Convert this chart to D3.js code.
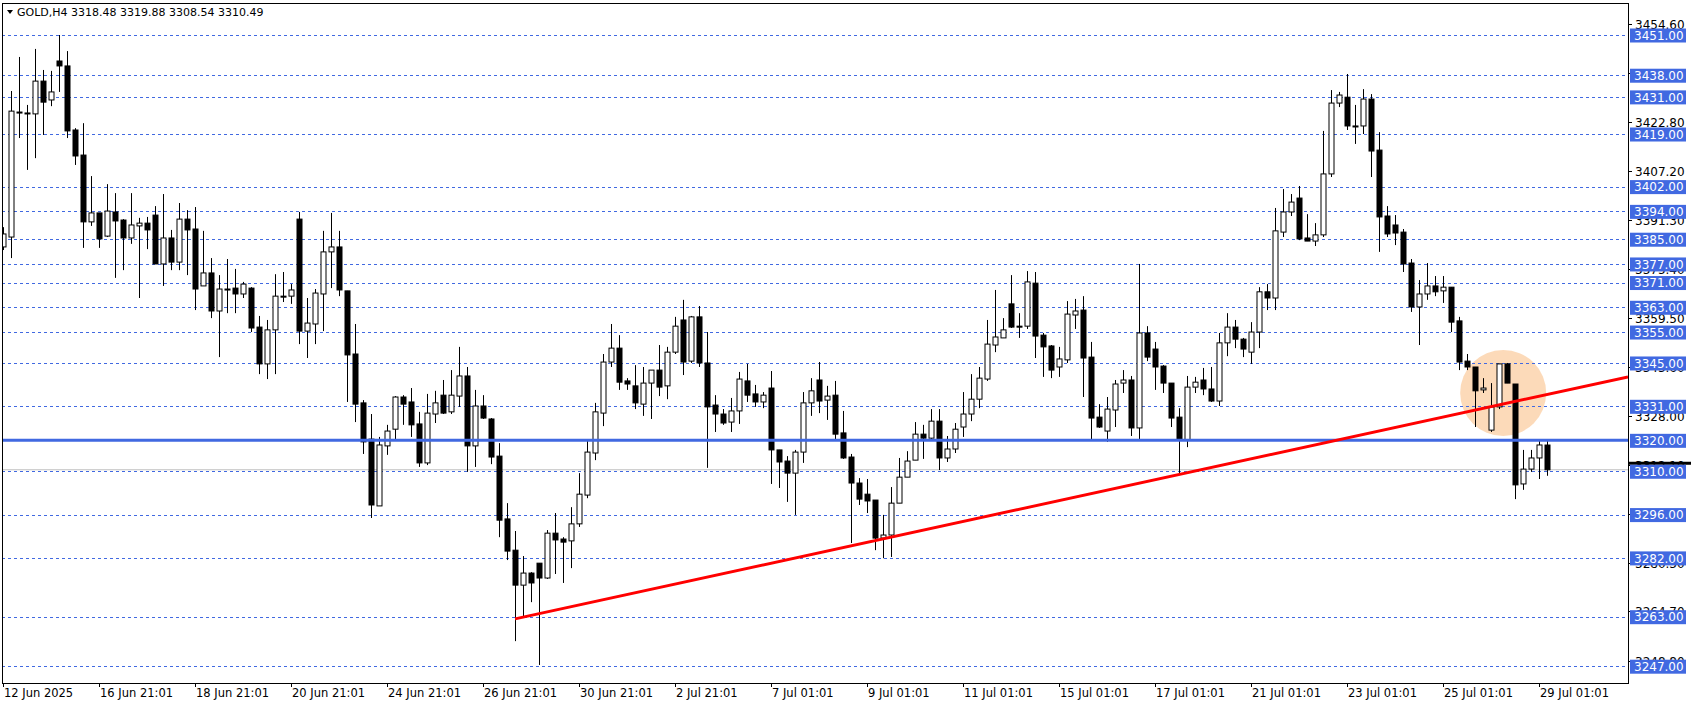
<!DOCTYPE html>
<html>
<head>
<meta charset="utf-8">
<script src="https://cdn.jsdelivr.net/npm/d3@7"></script>
<style>
  body { margin: 0; background: #fff; }
  svg { display: block; font-family: "DejaVu Sans", Tahoma, sans-serif; }
</style>
</head>
<body>
<div id="chart"></div>
<script>
// GOLD H4 candles: [open, high, low, close]
const candles = [
  [3382.5,3388.9,3381.5,3386.7],[3385.7,3432.9,3378.9,3426.4],[3426.1,3443.9,3417.7,3426.1],[3425.8,3428.4,3407.4,3425.8],
  [3425.5,3446.5,3411.2,3436.1],[3436.1,3439.7,3418.7,3429.3],[3430.0,3439.4,3428.0,3432.6],[3442.6,3451.0,3432.6,3441.0],
  [3441.0,3445.8,3417.7,3420.0],[3420.3,3420.9,3409.0,3411.9],[3412.2,3422.5,3382.2,3390.6],[3390.6,3405.4,3389.3,3393.5],
  [3393.5,3393.5,3382.2,3385.1],[3386.0,3402.8,3385.7,3394.1],[3393.8,3399.9,3372.5,3390.9],[3391.2,3391.5,3375.0,3385.4],
  [3385.4,3399.9,3383.5,3389.6],[3389.3,3391.9,3366.0,3390.2],[3390.2,3392.2,3381.8,3388.0],[3392.8,3395.7,3377.0,3377.0],
  [3377.0,3399.6,3369.9,3385.4],[3385.4,3388.0,3375.0,3377.6],[3377.6,3396.7,3375.0,3391.5],[3391.5,3394.4,3373.4,3388.0],
  [3388.3,3395.4,3362.1,3368.9],[3369.9,3387.7,3369.9,3374.1],[3374.1,3378.9,3359.5,3361.8],[3361.8,3373.4,3346.9,3368.9],
  [3368.9,3378.6,3361.1,3368.9],[3369.2,3375.4,3361.1,3367.3],[3367.3,3371.2,3366.0,3370.5],[3369.2,3369.5,3355.0,3356.3],
  [3356.6,3360.2,3341.4,3344.7],[3344.7,3358.9,3339.8,3355.7],[3355.7,3373.7,3341.4,3366.6],[3366.6,3374.4,3364.7,3366.6],
  [3366.6,3370.5,3364.1,3368.6],[3391.5,3393.8,3351.1,3355.3],[3355.3,3366.0,3346.6,3357.9],[3357.6,3368.9,3351.1,3367.6],
  [3367.3,3387.7,3355.3,3380.9],[3380.9,3393.5,3369.2,3382.5],[3382.5,3387.7,3366.6,3368.6],[3368.3,3368.3,3332.4,3347.6],
  [3347.9,3357.6,3325.9,3331.7],[3332.1,3333.0,3315.6,3319.5],[3320.4,3328.5,3294.9,3299.1],[3298.8,3321.1,3298.8,3318.5],
  [3318.2,3325.0,3315.3,3323.0],[3323.6,3334.3,3320.1,3334.0],[3334.0,3334.6,3325.0,3331.7],[3332.4,3336.9,3321.1,3325.0],
  [3325.3,3329.2,3311.4,3312.7],[3312.7,3335.0,3312.0,3328.8],[3328.5,3336.0,3325.6,3332.1],[3334.6,3339.5,3328.5,3328.8],
  [3329.2,3342.7,3328.5,3334.6],[3334.3,3350.2,3330.8,3340.8],[3340.8,3343.7,3309.8,3318.2],[3318.2,3336.3,3311.4,3331.1],
  [3331.1,3334.6,3326.9,3327.2],[3326.9,3327.2,3312.3,3314.6],[3314.9,3319.1,3288.7,3294.2],[3294.6,3299.7,3281.3,3284.2],
  [3284.5,3290.7,3255.1,3273.2],[3273.2,3282.6,3262.9,3277.1],[3277.1,3277.4,3267.7,3273.9],[3280.3,3280.3,3247.4,3275.5],
  [3275.5,3291.0,3275.2,3290.0],[3290.0,3296.5,3276.8,3287.8],[3288.1,3288.7,3273.9,3287.1],[3287.5,3298.4,3278.7,3293.0],
  [3293.0,3309.4,3292.0,3302.6],[3302.3,3320.4,3301.3,3316.2],[3315.9,3332.1,3313.6,3329.2],[3328.8,3347.9,3324.6,3345.3],
  [3345.3,3357.6,3343.7,3349.8],[3349.8,3354.0,3336.3,3338.8],[3339.2,3340.1,3336.3,3338.2],[3337.6,3344.3,3330.1,3332.1],
  [3331.7,3343.7,3327.9,3338.5],[3338.5,3342.7,3326.9,3342.7],[3342.7,3350.8,3334.3,3337.2],[3337.6,3350.2,3333.3,3348.5],
  [3348.5,3359.9,3347.9,3356.9],[3358.9,3365.4,3341.1,3345.3],[3345.6,3360.2,3345.0,3359.9],[3359.9,3363.4,3343.7,3345.0],
  [3345.0,3355.0,3311.1,3330.8],[3331.4,3334.6,3322.7,3328.5],[3328.5,3330.1,3325.0,3325.6],[3325.9,3333.7,3322.7,3329.5],
  [3329.5,3342.1,3325.3,3339.8],[3339.2,3344.7,3332.4,3334.6],[3335.0,3337.9,3330.8,3332.4],[3332.4,3335.6,3330.4,3334.6],
  [3336.9,3342.4,3305.9,3316.9],[3316.9,3316.9,3304.6,3313.0],[3313.3,3314.9,3300.1,3309.4],[3309.4,3316.9,3295.9,3316.2],
  [3316.2,3335.6,3312.7,3332.1],[3332.1,3340.1,3327.9,3336.0],[3339.5,3345.3,3328.8,3332.7],[3333.0,3337.6,3326.6,3334.3],
  [3334.6,3339.2,3320.4,3322.0],[3322.4,3329.5,3314.0,3314.3],[3314.6,3315.6,3286.8,3306.2],[3306.2,3307.8,3299.1,3301.0],
  [3302.6,3307.5,3296.5,3300.4],[3300.7,3300.7,3284.5,3288.4],[3288.4,3295.9,3281.9,3289.4],[3289.4,3304.9,3282.3,3299.7],
  [3299.7,3314.3,3299.7,3308.1],[3308.1,3316.5,3308.1,3313.3],[3313.6,3325.9,3313.6,3322.0],[3322.0,3325.0,3314.0,3320.7],
  [3320.7,3330.1,3320.1,3326.2],[3326.2,3330.1,3310.4,3314.3],[3314.3,3321.4,3313.0,3317.2],[3317.2,3325.6,3315.9,3323.6],
  [3324.3,3335.6,3321.1,3328.5],[3328.5,3341.4,3326.2,3333.3],[3333.3,3343.7,3330.4,3340.1],[3339.8,3358.9,3339.2,3351.1],
  [3350.8,3368.6,3348.5,3353.4],[3353.1,3359.5,3353.1,3355.7],[3364.1,3373.4,3356.3,3356.6],[3356.9,3361.1,3353.1,3356.9],
  [3356.9,3374.7,3356.0,3371.2],[3370.8,3374.4,3346.6,3353.7],[3354.0,3354.7,3340.5,3350.2],[3350.5,3350.8,3340.1,3342.7],
  [3343.7,3350.2,3340.5,3346.3],[3346.0,3365.0,3345.0,3360.8],[3360.5,3365.7,3356.0,3361.8],[3362.1,3366.6,3334.0,3346.6],
  [3346.9,3351.8,3320.1,3327.2],[3327.5,3331.7,3324.0,3324.3],[3323.0,3334.0,3319.5,3330.1],[3329.8,3339.5,3324.3,3338.2],
  [3338.5,3342.7,3335.3,3339.5],[3339.5,3340.8,3321.4,3324.0],[3324.0,3377.0,3320.1,3354.7],[3354.7,3356.9,3345.6,3346.9],
  [3349.5,3351.8,3336.3,3343.7],[3344.0,3344.3,3335.3,3338.5],[3338.5,3338.5,3324.3,3327.2],[3327.5,3330.4,3309.4,3320.1],
  [3320.1,3340.8,3317.8,3337.2],[3337.2,3340.5,3335.3,3338.8],[3339.5,3343.4,3334.6,3336.6],[3336.6,3343.7,3332.4,3332.7],
  [3332.7,3354.7,3331.1,3351.5],[3351.5,3361.1,3347.2,3356.6],[3356.6,3358.9,3349.8,3352.7],[3352.7,3353.1,3346.9,3349.5],
  [3348.5,3358.2,3344.7,3355.0],[3355.0,3369.5,3349.8,3368.0],[3368.0,3370.5,3362.1,3366.0],[3366.0,3395.1,3362.1,3387.7],
  [3387.3,3401.2,3385.7,3393.8],[3393.8,3399.6,3392.5,3397.0],[3398.3,3402.2,3384.7,3385.1],[3385.4,3393.1,3384.4,3384.4],
  [3384.4,3390.2,3382.8,3386.4],[3386.4,3420.0,3385.7,3406.1],[3406.1,3433.2,3405.1,3429.0],[3429.0,3432.6,3427.7,3431.6],
  [3430.9,3438.4,3420.3,3421.6],[3421.6,3428.4,3415.8,3421.6],[3421.6,3433.5,3419.0,3430.3],[3430.3,3431.9,3405.1,3413.5],
  [3413.8,3419.6,3380.9,3392.2],[3392.5,3395.7,3385.7,3386.7],[3389.6,3392.8,3383.1,3387.0],[3387.3,3388.3,3374.4,3377.0],
  [3377.3,3378.6,3361.5,3363.1],[3363.1,3371.8,3350.8,3367.3],[3367.3,3377.3,3365.4,3369.9],[3369.9,3373.1,3366.6,3368.0],
  [3368.3,3373.1,3364.4,3369.5],[3369.5,3369.5,3355.0,3358.2],[3358.6,3359.9,3342.7,3345.3],[3345.6,3347.9,3342.7,3343.7],
  [3343.7,3343.7,3324.3,3336.0],[3336.3,3340.1,3335.3,3336.9],[3323.3,3338.5,3322.7,3330.8],[3330.8,3344.7,3330.1,3344.7],
  [3344.7,3345.0,3338.5,3338.5],[3338.2,3338.2,3301.0,3305.6],[3305.9,3316.9,3304.0,3310.7],[3310.7,3316.9,3309.8,3314.3],
  [3314.3,3320.4,3307.5,3318.5],[3318.48,3319.88,3308.54,3310.49]
];

const levels = [3451, 3438, 3431, 3419, 3402, 3394, 3385, 3377, 3371, 3363, 3355, 3345, 3331, 3320, 3310, 3296, 3282, 3263, 3247];
const axisTicks = [3454.60, 3438.70, 3422.80, 3407.20, 3391.30, 3375.40, 3359.50, 3343.60, 3328.00, 3312.10, 3296.20, 3280.30, 3264.70, 3248.80];
const dateLabels = ["12 Jun 2025", "16 Jun 21:01", "18 Jun 21:01", "20 Jun 21:01", "24 Jun 21:01", "26 Jun 21:01",
  "30 Jun 21:01", "2 Jul 21:01", "7 Jul 01:01", "9 Jul 01:01", "11 Jul 01:01", "15 Jul 01:01", "17 Jul 01:01",
  "21 Jul 01:01", "23 Jul 01:01", "25 Jul 01:01", "29 Jul 01:01"];
const dateIndex = [0, 12, 24, 36, 48, 60, 72, 84, 96, 108, 120, 132, 144, 156, 168, 180, 192];
const supportLevel = 3320;
const trendStart = [64, 3262.3];
const trendEnd = [203.1, 3340.5];
const focus = [187.5, 3335.3];
const header = "GOLD,H4  3318.48 3319.88 3308.54 3310.49";

const W = 1692, H = 704;
const plot = { left: 2, top: 3, right: 1628, bottom: 683 };

const x = d3.scaleLinear().domain([0, 203.1]).range([3, plot.right]);
const y = d3.scaleLinear().domain([3451, 3247]).range([35, 666.2]);

const svg = d3.select("#chart").append("svg").attr("width", W).attr("height", H);

const clip = svg.append("clipPath").attr("id", "clip").append("rect")
  .attr("x", plot.left).attr("y", plot.top)
  .attr("width", plot.right - plot.left).attr("height", plot.bottom - plot.top);

const g = svg.append("g").attr("clip-path", "url(#clip)");

// Highlight circle
g.append("circle")
  .attr("cx", x(focus[0])).attr("cy", y(focus[1])).attr("r", 43)
  .attr("fill", "#fcd3ad").attr("opacity", 0.85);

// Dashed levels
g.selectAll("line.level").data(levels).enter().append("line")
  .attr("x1", plot.left).attr("x2", plot.right)
  .attr("y1", d => Math.round(y(d)) + 0.5).attr("y2", d => Math.round(y(d)) + 0.5)
  .attr("stroke", "#4169e1").attr("stroke-dasharray", "3,3");

// Current price line
const last = candles[candles.length - 1][3];
g.append("line")
  .attr("x1", plot.left).attr("x2", plot.right)
  .attr("y1", y(last)).attr("y2", y(last))
  .attr("stroke", "#c0c0c0");

// Candles
const cg = g.selectAll("g.candle").data(candles).enter().append("g");
cg.append("line")
  .attr("x1", (d, i) => Math.round(x(i)) + 0.5).attr("x2", (d, i) => Math.round(x(i)) + 0.5)
  .attr("y1", d => y(d[1])).attr("y2", d => y(d[2]))
  .attr("stroke", "#000");
cg.append("rect")
  .attr("x", (d, i) => Math.round(x(i)) - 2)
  .attr("y", d => y(Math.max(d[0], d[3])))
  .attr("width", 5)
  .attr("height", d => Math.max(1, Math.abs(y(d[0]) - y(d[3]))))
  .attr("fill", d => d[3] > d[0] ? "#fff" : "#000")
  .attr("stroke", "#000").attr("stroke-width", 1);

// Support line
g.append("line")
  .attr("x1", plot.left).attr("x2", plot.right)
  .attr("y1", y(supportLevel)).attr("y2", y(supportLevel))
  .attr("stroke", "#4169e1").attr("stroke-width", 3);

// Trend line
g.append("line")
  .attr("x1", x(trendStart[0])).attr("y1", y(trendStart[1]))
  .attr("x2", x(trendEnd[0])).attr("y2", y(trendEnd[1]))
  .attr("stroke", "#ff0000").attr("stroke-width", 3);

// Frame
svg.append("rect")
  .attr("x", plot.left + 0.5).attr("y", plot.top + 0.5)
  .attr("width", plot.right - plot.left).attr("height", plot.bottom - plot.top)
  .attr("fill", "none").attr("stroke", "#000");

// Price axis ticks
const ax = svg.append("g");
ax.selectAll("g").data(axisTicks).enter().append("g")
  .each(function (d) {
    const t = d3.select(this);
    const yy = Math.round(y(d)) + 0.5;
    t.append("line").attr("x1", plot.right).attr("x2", plot.right + 4)
      .attr("y1", yy).attr("y2", yy).attr("stroke", "#000");
    t.append("text").attr("x", plot.right + 7).attr("y", yy).attr("dy", "0.35em")
      .attr("font-size", 12).attr("fill", "#000").text(d.toFixed(2));
  });

// Bid marker
svg.append("rect").attr("x", plot.right + 1).attr("y", y(last) - 8)
  .attr("width", 62).attr("height", 3).attr("fill", "#000");

// Level labels
const lab = svg.append("g").selectAll("g").data(levels).enter().append("g");
lab.append("rect")
  .attr("x", plot.right + 2).attr("y", d => y(d) - 6.5)
  .attr("width", 56).attr("height", 14).attr("fill", "#4169e1");
lab.append("text")
  .attr("x", plot.right + 6).attr("y", d => y(d) + 0.5).attr("dy", "0.35em")
  .attr("font-size", 12).attr("fill", "#fff").text(d => d.toFixed(2));

// Date axis
const dx = svg.append("g").selectAll("g").data(dateIndex).enter().append("g");
dx.append("line")
  .attr("x1", d => Math.round(x(d)) + 0.5).attr("x2", d => Math.round(x(d)) + 0.5)
  .attr("y1", plot.bottom).attr("y2", plot.bottom + 4).attr("stroke", "#000");
dx.append("text")
  .attr("x", d => Math.round(x(d)) + 1).attr("y", plot.bottom + 14)
  .attr("font-size", 11.5).attr("fill", "#000")
  .text((d, i) => dateLabels[i]);

// Header
svg.append("path").attr("d", "M7,10 L13,10 L10,14 Z").attr("fill", "#000");
svg.append("text").attr("x", 17).attr("y", 16)
  .attr("font-size", 11).attr("fill", "#000").text(header);
</script>
</body>
</html>
